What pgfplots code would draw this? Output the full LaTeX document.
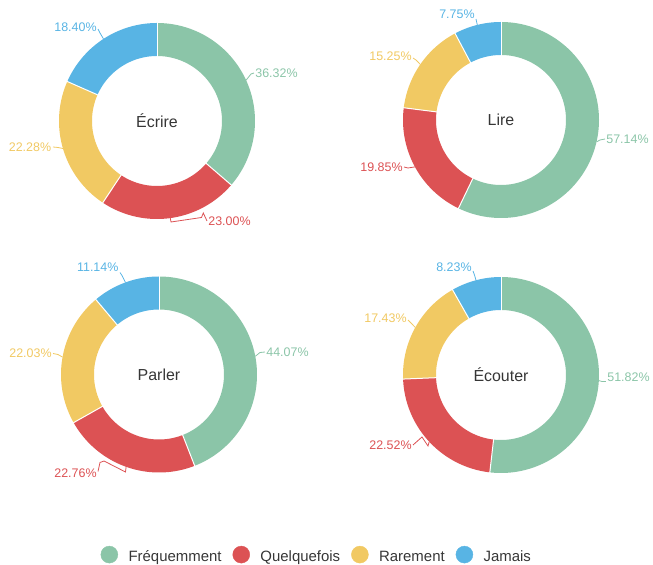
\documentclass[border=0pt]{standalone}
\usepackage{fontspec}
\setmainfont{Liberation Sans}
\usepackage{pgfplots}
\pgfplotsset{compat=1.18}
\usepgfplotslibrary{polar}
\definecolor{cG}{HTML}{8BC5A8}
\definecolor{cR}{HTML}{DC5254}
\definecolor{cY}{HTML}{F1C963}
\definecolor{cB}{HTML}{58B4E4}
\definecolor{cT}{HTML}{363636}
\newcommand\lbl{\fontsize{12.5}{15}\selectfont}
\newcommand\ttl{\fontsize{16}{19}\selectfont}
% segment: colour, cumulative start %, cumulative end %
\newcommand\seg[3]{\addplot[forget plot, draw=#1, line width=33bp, domain={90-3.6*(#3)}:{90-3.6*(#2)}, samples=120, mark=none] {81.5};}
\newcommand\sep[1]{\addplot[forget plot, draw=white, line width=1bp, domain=64:99, samples=2, mark=none] ({90-3.6*(#1)}, {x});}
\pgfplotsset{
  donut/.style={width=200bp, height=200bp, scale only axis, ymin=0, ymax=100, xmin=0, xmax=360,
    hide axis, clip=false, anchor=center},
  lead/.style={forget plot, data cs=cart, draw=#1, line width=0.8bp, mark=none},
}
\begin{document}
\begin{tikzpicture}
\path[use as bounding box] (0,0) rectangle (653bp,565bp);
% ---------- Écrire ----------
\begin{polaraxis}[donut, at={(157bp,444bp)}]
\seg{cG}{0}{36.32}\seg{cR}{36.32}{59.32}\seg{cY}{59.32}{81.60}\seg{cB}{81.60}{100}
\sep{0}\sep{36.32}\sep{59.32}\sep{81.60}
\addplot[lead=cG] coordinates {(89.1,40.8) (94,47) (97,48)} node[pos=1, anchor=west, inner sep=1bp, text=cG, font=\lbl] {36.32\%};
\addplot[lead=cR] coordinates {(13.3,-97.1) (14,-101) (44.5,-96.5) (46.3,-92) (50,-100)} node[pos=1, anchor=west, inner sep=1bp, text=cR, font=\lbl] {23.00\%};
\addplot[lead=cY] coordinates {(-94.1,-27.5) (-99,-26.5) (-104,-26)} node[pos=1, anchor=east, inner sep=1bp, text=cY, font=\lbl] {22.28\%};
\addplot[lead=cB] coordinates {(-53.5,82.1) (-57,88) (-59,92)} node[pos=1, anchor=east, yshift=2bp, inner sep=1bp, text=cB, font=\lbl] {18.40\%};
\node[font=\ttl, text=cT] at (axis cs:0,0) {Écrire};
\end{polaraxis}
% ---------- Lire ----------
\begin{polaraxis}[donut, at={(501bp,445bp)}]
\seg{cG}{0}{57.14}\seg{cR}{57.14}{76.99}\seg{cY}{76.99}{92.24}\seg{cB}{92.24}{100}
\sep{0}\sep{57.14}\sep{76.99}\sep{92.24}
\addplot[lead=cG] coordinates {(95.5,-21.9) (99,-20) (104,-19)} node[pos=1, anchor=west, inner sep=1bp, text=cG, font=\lbl] {57.14\%};
\addplot[lead=cR] coordinates {(-86.1,-46.9) (-93,-48) (-97,-47)} node[pos=1, anchor=east, inner sep=1bp, text=cR, font=\lbl] {19.85\%};
\addplot[lead=cY] coordinates {(-80.7,55.6) (-85,60) (-88,62)} node[pos=1, anchor=east, yshift=2bp, inner sep=1bp, text=cY, font=\lbl] {15.25\%};
\addplot[lead=cB] coordinates {(-23.7,95.1) (-25,101)} node[pos=1, anchor=east, yshift=5bp, inner sep=1bp, text=cB, font=\lbl] {7.75\%};
\node[font=\ttl, text=cT] at (axis cs:0,0) {Lire};
\end{polaraxis}
% ---------- Parler ----------
\begin{polaraxis}[donut, at={(159bp,190.5bp)}]
\seg{cG}{0}{44.07}\seg{cR}{44.07}{66.83}\seg{cY}{66.83}{88.86}\seg{cB}{88.86}{100}
\sep{0}\sep{44.07}\sep{66.83}\sep{88.86}
\addplot[lead=cG] coordinates {(96.3,18.2) (101,22) (106,22.5)} node[pos=1, anchor=west, inner sep=1bp, text=cG, font=\lbl] {44.07\%};
\addplot[lead=cR] coordinates {(-32.9,-92.3) (-33.5,-97.5) (-55,-86.5) (-59,-88) (-61,-97)} node[pos=1, anchor=east, yshift=-1.5bp, inner sep=1bp, text=cR, font=\lbl] {22.76\%};
\addplot[lead=cY] coordinates {(-96.5,17.4) (-101,20) (-106,21)} node[pos=1, anchor=east, inner sep=1bp, text=cY, font=\lbl] {22.03\%};
\addplot[lead=cB] coordinates {(-33.5,92.1) (-37,99) (-39,102)} node[pos=1, anchor=east, yshift=4.5bp, inner sep=1bp, text=cB, font=\lbl] {11.14\%};
\node[font=\ttl, text=cT] at (axis cs:0,0) {Parler};
\end{polaraxis}
% ---------- Écouter ----------
\begin{polaraxis}[donut, at={(501bp,190bp)},
  legend columns=4,
  legend image code/.code={\fill[#1] (8.5bp,0.4ex) circle (8.5bp);},
  legend style={at={(-0.426,-0.398)}, anchor=center, draw=none, fill=none,
    font=\fontsize{15}{18}\selectfont, text=cT, inner sep=0pt,
    nodes={inner sep=0pt},
    /tikz/every odd column/.append style={column sep=10.5bp},
    /tikz/every even column/.append style={column sep=11bp}},
]
\seg{cG}{0}{51.82}\seg{cR}{51.82}{74.34}\seg{cY}{74.34}{91.77}\seg{cB}{91.77}{100}
\sep{0}\sep{51.82}\sep{74.34}\sep{91.77}
\addplot[lead=cG] coordinates {(97.8,-5.6) (101,-6.5) (105,-6.5)} node[pos=1, anchor=west, yshift=4.5bp, inner sep=1bp, text=cG, font=\lbl] {51.82\%};
\addplot[lead=cR] coordinates {(-71.8,-66.7) (-73,-71) (-79,-62) (-88,-70)} node[pos=1, anchor=east, inner sep=1bp, text=cR, font=\lbl] {22.52\%};
\addplot[lead=cY] coordinates {(-85.7,47.5) (-89,51) (-93,55)} node[pos=1, anchor=east, yshift=2bp, inner sep=1bp, text=cY, font=\lbl] {17.43\%};
\addplot[lead=cB] coordinates {(-25,94.7) (-26.5,100) (-28,104)} node[pos=1, anchor=east, yshift=4bp, inner sep=1bp, text=cB, font=\lbl] {8.23\%};
\node[font=\ttl, text=cT] at (axis cs:0,0) {Écouter};
\addlegendimage{cG}\addlegendentry{Fréquemment}
\addlegendimage{cR}\addlegendentry{Quelquefois}
\addlegendimage{cY}\addlegendentry{Rarement}
\addlegendimage{cB}\addlegendentry{Jamais}
\end{polaraxis}
\end{tikzpicture}
\end{document}
